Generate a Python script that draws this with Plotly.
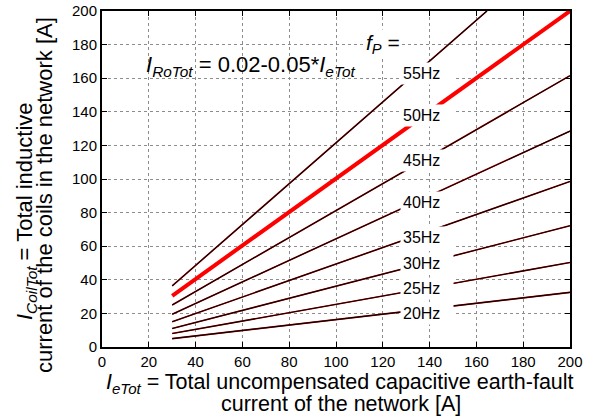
import plotly.graph_objects as go

# ---- data ----
freq_labels = ["20Hz", "25Hz", "30Hz", "35Hz", "40Hz", "45Hz", "50Hz", "55Hz"]
x_start = [30, 30, 30, 30, 30, 30, 30, 30]
y_start = [5.0, 8.0, 11.0, 15.0, 19.5, 25.0, 30.5, 36.4]
x_end = [200, 200, 200, 200, 200, 200, 200, 164.5]
y_end = [32.5, 50.3, 72.2, 98.5, 128.5, 161.5, 200, 200]

x_ticks = [0, 20, 40, 60, 80, 100, 120, 140, 160, 180, 200]
y_ticks = [0, 20, 40, 60, 80, 100, 120, 140, 160, 180, 200]

# label placement (style / position only)
label_x = 139.0
label_y = [20.0, 34.8, 49.8, 65.4, 86.0, 111.2, 138.0, 163.0]

FONT = "Arial, 'Liberation Sans', Helvetica, sans-serif"

# plot-area geometry in pixels
W, H = 592, 417
L, R, T, B = 102, 22, 11, 70
pw = W - L - R
ph = H - T - B


def px2paper_x(px):
    return (px - L) / pw


def px2paper_y(py):
    return (H - B - py) / ph


fig = go.Figure()

for i, lab in enumerate(freq_labels):
    xs = [x_start[i], x_end[i]]
    ys = [y_start[i], y_end[i]]
    if lab == "50Hz":
        fig.add_trace(go.Scatter(x=xs, y=ys, mode="lines",
                                 line=dict(color="#ff0000", width=4),
                                 showlegend=False, hoverinfo="skip"))
    else:
        fig.add_trace(go.Scatter(x=xs, y=ys, mode="lines",
                                 line=dict(color="#d00000", width=1.6),
                                 showlegend=False, hoverinfo="skip"))
        fig.add_trace(go.Scatter(x=xs, y=ys, mode="lines",
                                 line=dict(color="#000000", width=1.1),
                                 showlegend=False, hoverinfo="skip"))

annotations = []
for lab, ly in zip(freq_labels, label_y):
    annotations.append(dict(
        x=label_x, y=ly, xref="x", yref="y", text=lab, showarrow=False,
        font=dict(family=FONT, size=16, color="#000"),
        bgcolor="#ffffff", borderpad=2, width=48, align="left",
        xanchor="center", yanchor="middle"))

annotations.append(dict(
    x=18.0, y=167.2, xref="x", yref="y",
    text="<i>I</i><sub><i>RoTot</i></sub> = 0.02-0.05*<i>I</i><sub><i>eTot</i></sub>",
    showarrow=False, font=dict(family=FONT, size=22, color="#000"),
    xanchor="left", yanchor="middle"))

annotations.append(dict(
    x=112.0, y=180.5, xref="x", yref="y",
    text="<i>f</i><sub><i>P</i></sub> =",
    showarrow=False, font=dict(family=FONT, size=21, color="#000"),
    xanchor="left", yanchor="middle", bgcolor="#ffffff"))

# x-axis title (two lines)
annotations.append(dict(
    x=px2paper_x(340), y=px2paper_y(383), xref="paper", yref="paper",
    text="<i>I</i><sub><i>eTot</i></sub> = Total uncompensated capacitive earth-fault",
    showarrow=False, font=dict(family=FONT, size=21.5, color="#000"),
    xanchor="center", yanchor="middle"))
annotations.append(dict(
    x=px2paper_x(341), y=px2paper_y(404), xref="paper", yref="paper",
    text="current of the network [A]",
    showarrow=False, font=dict(family=FONT, size=21.5, color="#000"),
    xanchor="center", yanchor="middle"))

# y-axis title (two lines, rotated)
annotations.append(dict(
    x=px2paper_x(26), y=px2paper_y(211), xref="paper", yref="paper",
    text="<i>I</i><sub><i>CoilTot</i></sub> = Total inductive",
    showarrow=False, textangle=-90, font=dict(family=FONT, size=22, color="#000"),
    xanchor="center", yanchor="middle"))
annotations.append(dict(
    x=px2paper_x(44), y=px2paper_y(195), xref="paper", yref="paper",
    text="current of the coils in the network [A]",
    showarrow=False, textangle=-90, font=dict(family=FONT, size=22, color="#000"),
    xanchor="center", yanchor="middle"))

axis_common = dict(
    range=[0, 200], showline=True, linewidth=2, linecolor="#000",
    mirror="ticks", ticks="inside", ticklen=5, tickwidth=1, tickcolor="#000",
    showgrid=True, gridcolor="#8c8c8c", griddash="dot", gridwidth=1,
    zeroline=False, automargin=False,
    tickfont=dict(family=FONT, size=15, color="#000"),
)

fig.update_xaxes(tickvals=x_ticks, ticktext=[str(v) for v in x_ticks], **axis_common)
fig.update_yaxes(tickvals=y_ticks, ticktext=[str(v) for v in y_ticks], **axis_common)

fig.update_layout(
    width=W, height=H,
    margin=dict(l=L, r=R, t=T, b=B, pad=0, autoexpand=False),
    paper_bgcolor="#fff", plot_bgcolor="#fff",
    showlegend=False,
    annotations=annotations,
    font=dict(family=FONT, color="#000"),
)

fig.write_html("out.html")
